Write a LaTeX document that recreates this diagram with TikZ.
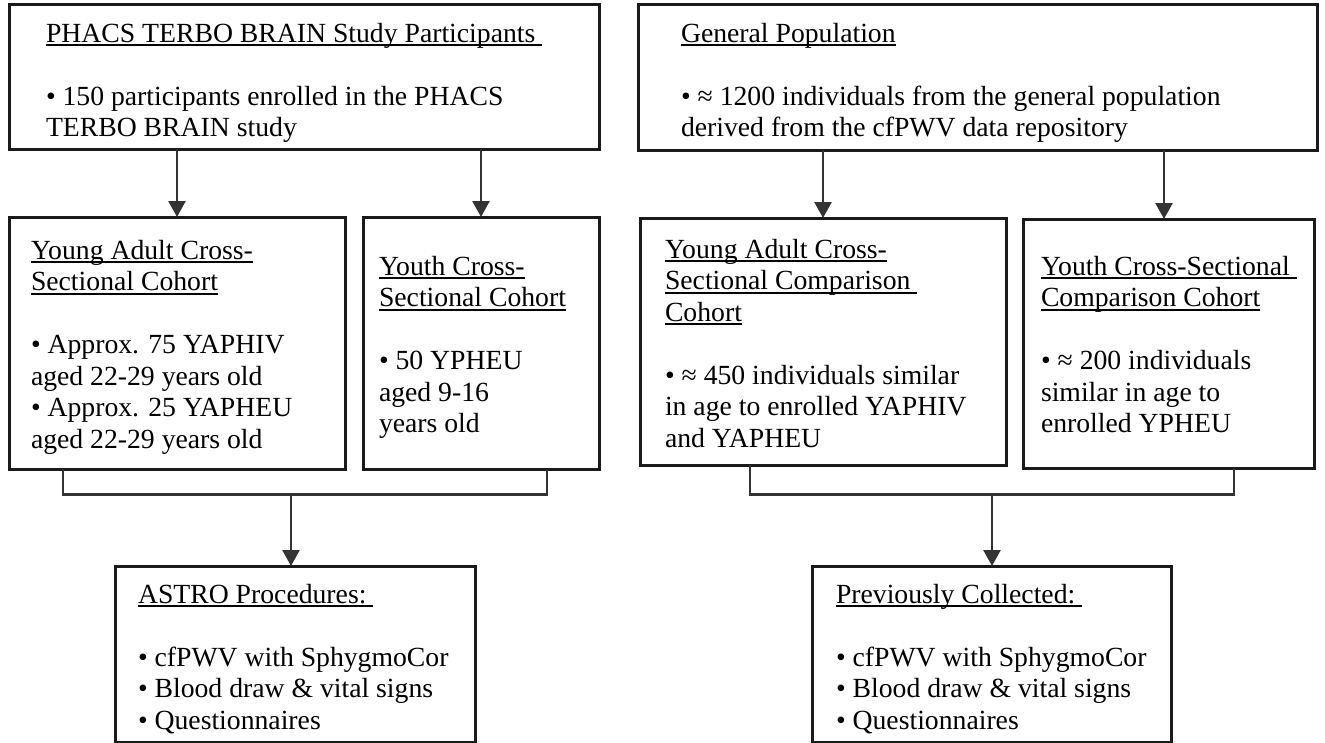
\documentclass[tikz,border=0pt]{standalone}
\usepackage{fontspec}
\setmainfont{Liberation Serif}
\usetikzlibrary{arrows.meta}
\definecolor{edgecol}{HTML}{1A1A1A}
\definecolor{wirecol}{HTML}{333333}
\newcommand\ulin[1]{\setbox0\hbox{#1}\rlap{\rule[-4pt]{\wd0}{1.6pt}}\box0}
\newcommand\mlines[1]{\vtop{\halign{##\hfil\cr#1\crcr}}}
\begin{document}
\begin{tikzpicture}[x=1pt,y=-1pt,
  box/.style={draw=edgecol, line width=3pt, rectangle, inner sep=0pt, outer sep=0pt},
  txt/.style={anchor=base west, inner sep=0pt, outer sep=0pt, font=\fontsize{27.7}{31.5}\selectfont, text=black},
  link/.style={draw=wirecol, line width=2.5pt},
  arrow/.style={link, -{Triangle[length=16pt,width=17pt]}}]
\useasboundingbox (0,0) rectangle (1325,742);
% boxes
\node[box, minimum width=590, minimum height=145] (A) at (304,76.5) {};
\node[box, minimum width=679, minimum height=146] (B) at (977.5,77) {};
\node[box, minimum width=336, minimum height=252] (C) at (177,343) {};
\node[box, minimum width=236, minimum height=252] (D) at (481,343) {};
\node[box, minimum width=366, minimum height=247] (E) at (823,341.5) {};
\node[box, minimum width=291, minimum height=249] (F) at (1168.5,343.5) {};
\node[box, minimum width=360, minimum height=176] (G) at (295,654) {};
\node[box, minimum width=359, minimum height=176] (H) at (991.5,654) {};
% texts
\node[txt] (tA) at (46,42) {\mlines{\ulin{PHACS TERBO BRAIN Study Participants\ }\cr\cr
• 150 participants enrolled in the PHACS\cr TERBO BRAIN study}};
\node[txt] (tB) at (681,42) {\mlines{\ulin{General Population}\cr\cr
• ≈ 1200 individuals from the general population\cr derived from the cfPWV data repository}};
\node[txt] (tC) at (31,259) {\mlines{\ulin{Young Adult Cross-}\cr \ulin{Sectional Cohort}\cr\cr
• Approx. 75 YAPHIV\cr aged 22-29 years old\cr • Approx. 25 YAPHEU\cr aged 22-29 years old}};
\node[txt] (tD) at (379,275) {\mlines{\ulin{Youth Cross-}\cr \ulin{Sectional Cohort}\cr\cr
• 50 YPHEU\cr aged 9-16\cr years old}};
\node[txt] (tE) at (665,258) {\mlines{\ulin{Young Adult Cross-}\cr \ulin{Sectional Comparison\ }\cr \ulin{Cohort}\cr\cr
• ≈ 450 individuals similar\cr in age to enrolled YAPHIV\cr and YAPHEU}};
\node[txt] (tF) at (1041,275) {\mlines{\ulin{Youth Cross-Sectional\ }\cr \ulin{Comparison Cohort}\cr\cr
• ≈ 200 individuals\cr similar in age to\cr enrolled YPHEU}};
\node[txt] (tG) at (138,603) {\mlines{\ulin{ASTRO Procedures:\ }\cr\cr
• cfPWV with SphygmoCor\cr • Blood draw \& vital signs\cr • Questionnaires}};
\node[txt] (tH) at (836,603) {\mlines{\ulin{Previously Collected:\ }\cr\cr
• cfPWV with SphygmoCor\cr • Blood draw \& vital signs\cr • Questionnaires}};
% arrows from top boxes
\draw[arrow] (A.south -| C.north) -- (C.north);
\draw[arrow] (A.south -| D.north) -- (D.north);
\draw[arrow] (B.south -| E.north) -- (E.north);
\draw[arrow] ([xshift=-4.5pt]F.north |- B.south) -- ([xshift=-4.5pt]F.north);
% brackets
\coordinate (jl) at (291,494.5);
\coordinate (jr) at (992,494.5);
\draw[link] ([xshift=54pt]C.south west) |- (jl);
\draw[link] ([xshift=-52pt]D.south east) |- (jl);
\draw[arrow] (jl) -- (jl |- G.north);
\draw[link] ([xshift=110pt]E.south west) |- (jr);
\draw[link] ([xshift=211pt]F.south west) |- (jr);
\draw[arrow] (jr) -- (jr |- H.north);
\end{tikzpicture}
\end{document}
